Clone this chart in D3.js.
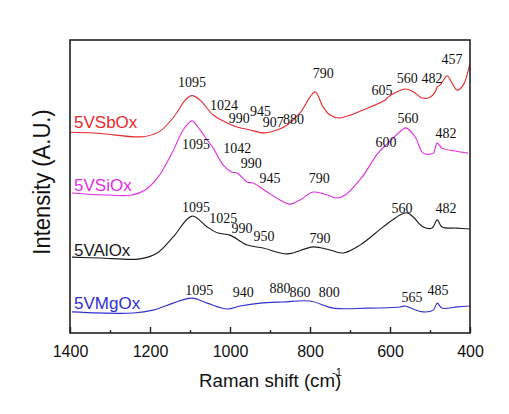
<!DOCTYPE html>
<html><head><meta charset="utf-8">
<script src="https://cdn.jsdelivr.net/npm/d3@7"></script>
<style>body{margin:0;background:#fff;} svg{display:block;}</style>
</head><body>
<svg id="chart" width="509" height="414"></svg>
<script>
// ---- data (wavenumber in cm-1, intensity in arbitrary units) ----
const seriesNames = ["5VSbOx", "5VSiOx", "5VAlOx", "5VMgOx"];
const seriesColors = ["#e8282c", "#e22ee2", "#1a1a1a", "#3030cc"];

const sbWave = [1400,1325,1217,1175,1137,1112,1095,1075,1042,1007,982,950,917,882,857,825,800,787,767,750,725,655,612,605,562,542,520,500,487,482,475,457,445,432,417,400];
const sbVal  = [68.5,68.1,67.0,68.9,74.4,79.5,81.0,79.5,74.4,71.7,70.3,69.3,68.3,69.3,71.0,75.1,80.5,82.3,77.1,74.4,73.4,76.8,79.5,80.5,83.3,82.3,80.2,80.5,82.3,84.0,84.6,87.7,85.3,82.9,84.6,92.2];

const siWave = [1395,1312,1245,1212,1180,1145,1117,1095,1075,1057,1042,1017,995,982,957,942,907,875,850,825,792,757,732,712,670,630,605,570,560,537,517,492,482,470,437,405];
const siVal  = [47.8,47.1,47.1,48.8,53.2,61.4,69.3,72.4,69.3,65.9,63.1,57.3,54.9,54.6,51.5,51.2,48.1,45.4,44.0,45.4,48.1,47.1,46.1,47.1,53.2,61.4,64.8,69.3,70.0,66.9,61.4,61.4,64.8,63.1,62.1,61.4];

const alWave = [1395,1325,1225,1182,1142,1095,1057,1030,1000,957,917,857,792,750,717,675,617,575,557,542,517,495,482,470,432,400];
const alVal  = [25.9,25.6,25.3,27.3,32.8,39.9,36.2,34.1,33.4,30.0,29.0,27.0,29.4,28.3,27.3,30.0,36.2,40.3,41.0,39.6,36.2,35.8,38.6,36.2,35.8,35.5];

const mgWave = [1395,1242,1192,1142,1095,1057,1007,975,925,867,800,742,657,575,562,542,517,492,482,470,432,400];
const mgVal  = [7.2,6.8,7.8,10.2,11.9,10.2,8.2,9.2,10.2,10.6,10.9,8.5,8.5,8.9,9.2,8.2,7.2,7.8,10.2,8.5,8.9,9.2];

// series label anchors (wavenumber, intensity)
const nameWave = [1390, 1390, 1390, 1390];
const nameVal  = [70.0, 48.5, 26.3, 8.2];

// peak annotations per series: text, wavenumber, intensity
const sbPeaks = ["1095","1024","990","945","907","880","790","605","560","482","457"];
const sbPeakW = [1095,1015,977,924,892,841,767,620,557,495,445];
const sbPeakV = [84.0,76.1,71.8,74.1,70.4,71.3,87.0,81.2,85.3,85.3,91.8];

const siPeaks = ["1095","1042","990","945","790","600","560","482"];
const siPeakW = [1085,982,947,900,777,610,555,460];
const siPeakV = [62.9,61.4,56.3,51.2,51.2,63.5,71.7,66.6];

const alPeaks = ["1095","1025","990","950","790","560","482"];
const alPeakW = [1085,1017,970,915,775,570,460];
const alPeakV = [41.4,37.6,34.2,31.4,30.8,41.0,41.0];

const mgPeaks = ["1095","940","880","860","800","565","485"];
const mgPeakW = [1077,967,875,825,752,545,480];
const mgPeakV = [13.0,12.3,13.8,12.2,12.3,10.7,13.0];

const xTicks = [1400,1200,1000,800,600,400];
const xMinorTicks = [1300,1100,900,700,500];

// ---- drawing ----
const svg = d3.select("#chart");
const L = 70, R = 470, T = 40, B = 333;
const x = d3.scaleLinear().domain([1400, 400]).range([L, R]);
const y = d3.scaleLinear().domain([0, 100]).range([B, T]);

const waves = [sbWave, siWave, alWave, mgWave];
const vals = [sbVal, siVal, alVal, mgVal];
const peaks = [[sbPeaks,sbPeakW,sbPeakV],[siPeaks,siPeakW,siPeakV],[alPeaks,alPeakW,alPeakV],[mgPeaks,mgPeakW,mgPeakV]];

const line = d3.line().x(d => x(d[0])).y(d => y(d[1])).curve(d3.curveCatmullRom.alpha(0.5));

svg.append("defs").append("clipPath").attr("id","clip")
  .append("rect").attr("x",L).attr("y",T).attr("width",R-L).attr("height",B-T);

waves.forEach((w, i) => {
  const pts = w.map((v, j) => [v, vals[i][j]]);
  svg.append("path").attr("d", line(pts)).attr("fill","none")
    .attr("stroke", seriesColors[i]).attr("stroke-width",1.1)
    .attr("clip-path","url(#clip)");
  svg.append("text").attr("x", x(nameWave[i])).attr("y", y(nameVal[i]))
    .attr("font-family","Liberation Sans, Arial, sans-serif").attr("font-size",17)
    .attr("fill", seriesColors[i]).text(seriesNames[i]);
  const [txt, pw, pv] = peaks[i];
  txt.forEach((t, k) => {
    svg.append("text").attr("x", x(pw[k])).attr("y", y(pv[k]))
      .attr("text-anchor","middle")
      .attr("font-family","Liberation Serif, Times New Roman, serif").attr("font-size",14)
      .attr("fill","#111").text(t);
  });
});

// frame
svg.append("rect").attr("x",L).attr("y",T).attr("width",R-L).attr("height",B-T)
  .attr("fill","none").attr("stroke","#222").attr("stroke-width",1.6);

// bottom axis ticks (inward)
const xAxis = d3.axisBottom(x).tickValues(xTicks).tickSize(-6).tickPadding(13).tickFormat(d3.format("d"));
const gx = svg.append("g").attr("transform",`translate(0,${B})`).call(xAxis);
gx.select(".domain").remove();
gx.selectAll(".tick line").attr("stroke","#222").attr("stroke-width",1.4);
gx.selectAll(".tick text").attr("font-family","Liberation Sans, Arial, sans-serif")
  .attr("font-size",16).attr("fill","#111");
const xMinor = d3.axisBottom(x).tickValues(xMinorTicks).tickSize(-3).tickFormat("");
const gm = svg.append("g").attr("transform",`translate(0,${B})`).call(xMinor);
gm.select(".domain").remove();
gm.selectAll(".tick line").attr("stroke","#222").attr("stroke-width",1.4);

// axis titles
svg.append("text").attr("x",199).attr("y",387)
  .attr("font-family","Liberation Sans, Arial, sans-serif").attr("font-size",18.7)
  .attr("fill","#111").text("Raman shift (cm)");
svg.append("text").attr("x",332).attr("y",376)
  .attr("font-family","Liberation Sans, Arial, sans-serif").attr("font-size",11)
  .attr("fill","#111").text("-1");
svg.append("text").attr("transform","translate(50,182) rotate(-90) scale(1,1.1)")
  .attr("text-anchor","middle")
  .attr("font-family","Liberation Sans, Arial, sans-serif").attr("font-size",22)
  .attr("fill","#111").text("Intensity (A.U.)");
</script>
</body></html>
